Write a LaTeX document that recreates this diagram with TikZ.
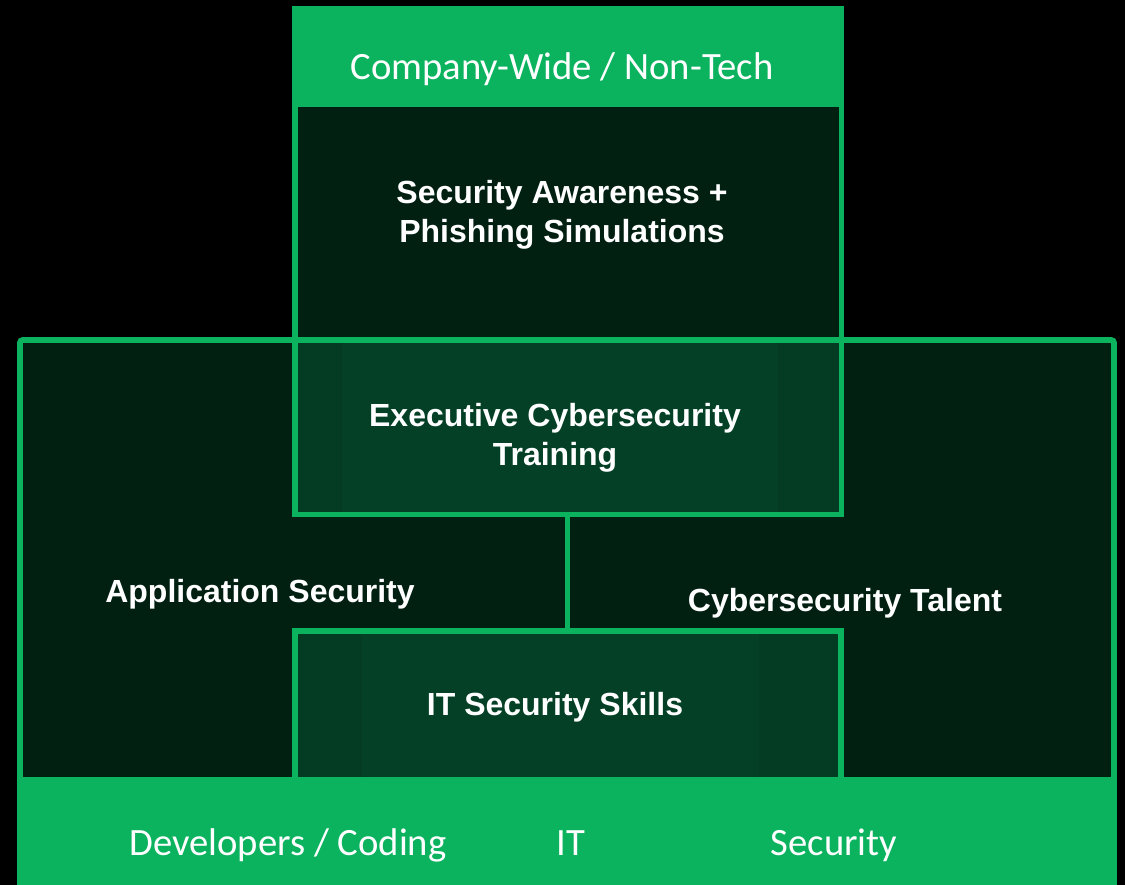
\documentclass[tikz,border=0pt]{standalone}
\usepackage{fontspec}
\setmainfont{Carlito}
\newfontfamily\boldsans{Liberation Sans}[BoldFont={Liberation Sans Bold}]

\definecolor{brand}{HTML}{0BB35F}
\definecolor{darkfill}{HTML}{012012}
\definecolor{midfill}{HTML}{033C22}
\definecolor{innerfill}{HTML}{044026}

\tikzset{
  greenline/.style={draw=brand, line width=4.2pt},
  bandlabel/.style={text=white, text height=0.75em, text depth=0.25em, font=\fontsize{29}{34}\selectfont},
  boldlabel/.style={text=white, align=center, font=\boldsans\bfseries\fontsize{24}{29.25}\selectfont},
}

\begin{document}
\begin{tikzpicture}[x=0.75pt,y=-0.75pt]
% 背景
\fill[black] (0,0) rectangle (1125,885);
\useasboundingbox (0,0) rectangle (1125,885);

% 各区域底色
\fill[darkfill] (20,340) rectangle (1114,777);
\fill[darkfill] (295,9) rectangle (841.5,514.5);
\fill[midfill] (297,342) rectangle (839,512);
\fill[innerfill] (342,342) rectangle (778,512);
\fill[midfill] (297,633) rectangle (839,777);
\fill[innerfill] (362,633) rectangle (759,779);

% 边框
\draw[greenline, rounded corners=2] (20,777) |- (1114,340) -- (1114,777);
\draw[greenline] (295,9) rectangle (841.5,514.5);
\draw[greenline] (295,777) |- (841,631) -- (841,777);
\coordinate (execbottom) at (567.5,514.5);
\coordinate (ittop) at (567.5,631);
\draw[greenline] (execbottom) -- (ittop);

% 绿色标题栏
\fill[brand] (17,777) rectangle (1117,885);
\fill[brand] (292,7) rectangle (844,107);

% 文字
\node[bandlabel] (nontech) at (562,76) {Company-Wide / Non-Tech};
\node[boldlabel] (awareness) at (562,215) {Security Awareness +\\Phishing Simulations};
\node[boldlabel] (executive) at (555,438) {Executive Cybersecurity\\Training};
\node[boldlabel] (appsec) at (260,594) {Application Security};
\node[boldlabel] (talent) at (845,603) {Cybersecurity Talent};
\node[boldlabel] (itskills) at (555,707) {IT Security Skills};
\node[bandlabel] (developers) at (288,852) {Developers / Coding};
\node[bandlabel] (it) at (571,852) {IT};
\node[bandlabel] (security) at (834,852) {Security};
\end{tikzpicture}
\end{document}
